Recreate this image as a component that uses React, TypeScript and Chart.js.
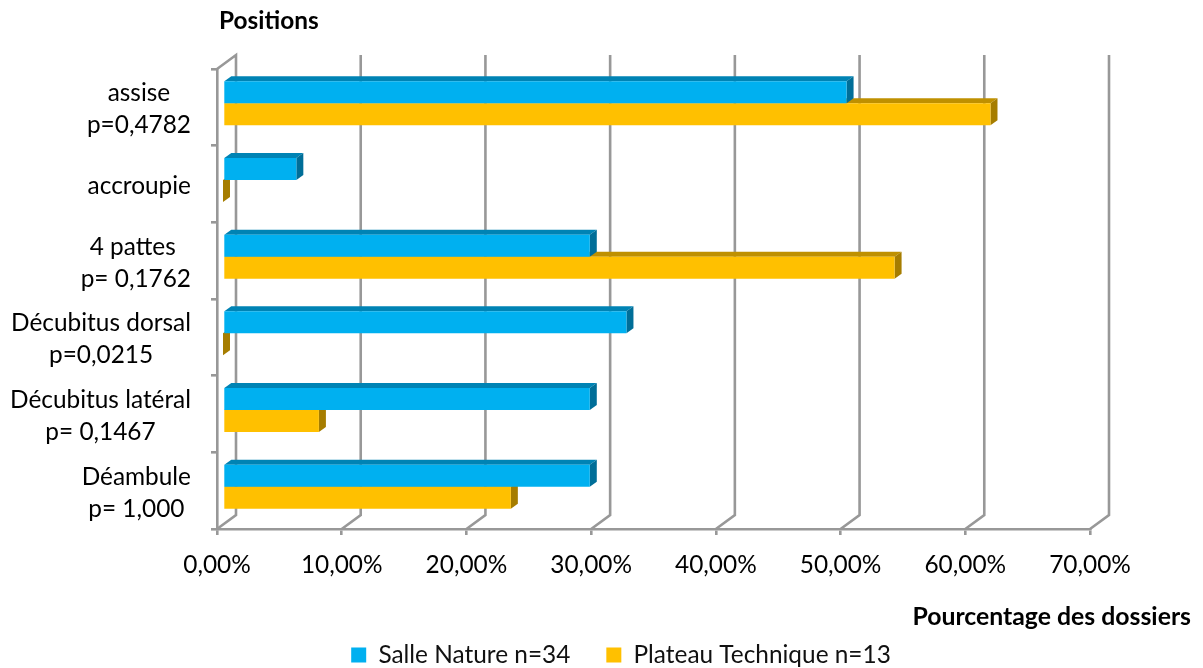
import React, { useEffect, useRef } from "react";
import { Chart, registerables } from "chart.js";

Chart.register(...registerables);

const categories: string[][] = [
  ["assise", "p=0,4782"],
  ["accroupie"],
  ["4 pattes ", "p= 0,1762"],
  ["Décubitus dorsal", "p=0,0215"],
  ["Décubitus latéral", "p= 0,1467"],
  ["Déambule", "p= 1,000"],
];
const salleNature = [50.0, 5.88, 29.41, 32.35, 29.41, 29.41];
const plateauTechnique = [61.54, 0, 53.85, 0, 7.69, 23.08];
const seriesNames = ["Salle Nature n=34", "Plateau Technique n=13"];
const yTitle = "Positions";
const xTitle = "Pourcentage des dossiers";

const FONT = "Lato, sans-serif";
const FS = 24.4;
const GRID = "#989898";
const LEGEND_PAD = 36;
const faces = [
  { top: "#0083B4", side: "#006E98" },
  { top: "#BF9000", side: "#A67D00" },
];

const wallPlugin = {
  id: "wall",
  beforeDatasetsDraw(chart: any) {
    const { ctx, chartArea: a, scales } = chart;
    const xs = scales.x;
    ctx.save();
    ctx.strokeStyle = GRID;
    ctx.lineWidth = 2.6;
    xs.ticks.forEach((_: any, i: number) => {
      const x = xs.getPixelForTick(i);
      ctx.beginPath();
      ctx.moveTo(x, a.bottom);
      ctx.lineTo(x + 19, a.bottom - 14);
      ctx.lineTo(x + 19, a.top - 14);
      if (i === 0) ctx.lineTo(x, a.top);
      ctx.stroke();
    });
    ctx.restore();
  },
};

const barDepthPlugin = {
  id: "barDepth",
  beforeDatasetDraw(chart: any, args: any) {
    const { ctx } = chart;
    const f = faces[args.index];
    ctx.save();
    ctx.translate(6, -4);
    args.meta.data.forEach((el: any) => {
      const { x, y, base, height } = el.getProps(["x", "y", "base", "height"], true);
      const t = y - height / 2;
      const b = y + height / 2;
      ctx.fillStyle = f.top;
      ctx.beginPath();
      ctx.moveTo(base, t);
      ctx.lineTo(base + 7, t - 5);
      ctx.lineTo(x + 7, t - 5);
      ctx.lineTo(x, t);
      ctx.closePath();
      ctx.fill();
      ctx.fillStyle = f.side;
      ctx.beginPath();
      ctx.moveTo(x, t);
      ctx.lineTo(x + 7, t - 5);
      ctx.lineTo(x + 7, b - 5);
      ctx.lineTo(x, b);
      ctx.closePath();
      ctx.fill();
    });
  },
  afterDatasetDraw(chart: any) {
    chart.ctx.restore();
  },
};

const textPlugin = {
  id: "texts",
  afterLayout(chart: any) {
    const l = chart.legend;
    const dx = 621 - (l.left + l.right) / 2;
    l.left += dx;
    l.right += dx;
    const dy = 655 - LEGEND_PAD - FS / 2 - l.top;
    l.top += dy;
    l.bottom += dy;
  },
  afterDraw(chart: any) {
    const { ctx, scales } = chart;
    const ys = scales.y;
    ctx.save();
    ctx.fillStyle = "#000";
    ctx.textBaseline = "middle";
    ctx.font = `${FS}px ${FONT}`;
    const right = 191;
    categories.forEach((lines, i) => {
      const cy = ys.getPixelForValue(i) + 2;
      const w = Math.max(...lines.map((s) => ctx.measureText(s).width));
      const cx = right - w / 2;
      ctx.textAlign = "center";
      lines.forEach((s, j) => {
        ctx.fillText(s, cx, cy + (j - (lines.length - 1) / 2) * 32);
      });
    });
    ctx.font = `bold ${FS}px ${FONT}`;
    ctx.textAlign = "left";
    ctx.fillText(yTitle, 219, 21);
    ctx.font = `bold 24.8px ${FONT}`;
    ctx.textAlign = "right";
    ctx.fillText(xTitle, 1191, 617);
    ctx.restore();
  },
};

export default function App() {
  const ref = useRef<HTMLCanvasElement>(null);
  useEffect(() => {
    document.body.style.margin = "0";
    document.body.style.overflow = "hidden";
    const chart = new Chart(ref.current as HTMLCanvasElement, {
      type: "bar",
      data: {
        labels: categories.map((c) => c.join(" ")),
        datasets: [
          { label: seriesNames[0], data: salleNature, backgroundColor: "#00B0F0" },
          { label: seriesNames[1], data: plateauTechnique, backgroundColor: "#FFC000" },
        ],
      },
      options: {
        indexAxis: "y",
        animation: false,
        responsive: false,
        layout: { padding: { left: 0, right: 113, top: 69, bottom: 0 } },
        datasets: { bar: { barPercentage: 1, categoryPercentage: 0.574 } },
        plugins: {
          tooltip: { enabled: false },
          legend: {
            position: "bottom",
            labels: {
              font: { family: FONT, size: FS },
              color: "#111",
              boxWidth: 15,
              boxHeight: 15,
              padding: LEGEND_PAD,
            },
          },
        },
        scales: {
          x: {
            min: 0,
            max: 70,
            ticks: {
              stepSize: 10,
              color: "#000",
              font: { family: FONT, size: FS },
              padding: 16,
              maxRotation: 0,
              callback: (v: any) => `${Number(v).toFixed(2).replace(".", ",")}%`,
            },
            grid: { drawOnChartArea: false, color: GRID, lineWidth: 2.6, tickLength: 6 },
            border: { color: GRID, width: 2.6 },
            afterFit: (s: any) => {
              s.height = 668 - 529 - s.chart.legend.height;
            },
          },
          y: {
            ticks: { display: false },
            grid: { drawOnChartArea: false, color: GRID, lineWidth: 2.6, tickLength: 6 },
            border: { color: GRID, width: 2.6 },
            afterFit: (s: any) => {
              s.width = 217;
            },
          },
        },
      },
      plugins: [wallPlugin, barDepthPlugin, textPlugin],
    } as any);
    return () => chart.destroy();
  }, []);
  return (
    <div style={{ width: 1203, height: 668, background: "#fff" }}>
      <canvas ref={ref} width={1203} height={668} style={{ display: "block" }} />
    </div>
  );
}
